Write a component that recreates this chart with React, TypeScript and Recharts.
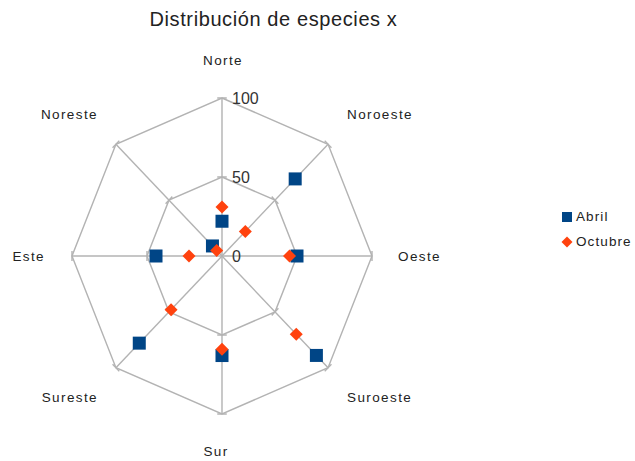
import React from 'react';
import { RadarChart, PolarGrid, PolarAngleAxis, PolarRadiusAxis, Radar } from 'recharts';

const categories = ['Norte', 'Noroeste', 'Oeste', 'Suroeste', 'Sur', 'Sureste', 'Este', 'Noreste'];
const abril = [22, 69, 50, 89, 63, 78, 44, 9];
const octubre = [31, 22, 45, 70, 59, 48, 22, 5];
const radiusTicks = [0, 50, 100];

const data = categories.map((c, i) => ({ name: c, abril: abril[i], octubre: octubre[i] }));

const CX = 222;
const CY = 256;
const R = 158;
const SX = 150 / 158; // horizontal squash of the reference plot area
const BLUE = '#004586';
const ORANGE = '#ff420e';
const GRID = '#b3b3b3';
const FONT = '"Liberation Sans", Arial, sans-serif';

const toSvgX = (pageX: number) => CX + (pageX - CX) / SX;

const AngleTick = (props: any) => {
  const { x, y, payload } = props;
  const dx = x - CX;
  const dy = y - CY;
  const len = Math.sqrt(dx * dx + dy * dy) || 1;
  const ux = dx / len;
  const uy = dy / len;
  let px: number;
  let py: number;
  let anchor: 'start' | 'middle' | 'end' = 'middle';
  if (Math.abs(ux) < 0.3) {
    if (uy < 0) { px = CX + 1; py = CY - 196; } else { px = CX - 6; py = CY + 195; }
  } else if (Math.abs(uy) < 0.3) {
    py = CY;
    if (ux > 0) { px = CX + 176; anchor = 'start'; } else { px = CX - 177; anchor = 'end'; }
  } else {
    py = uy < 0 ? CY - 142 : CY + 141;
    if (ux > 0) { px = CX + 125; anchor = 'start'; } else { px = CX - 124; anchor = 'end'; }
  }
  const marks = [R, R / 2].map((r, k) => {
    const mx = CX + ux * r;
    const my = CY + uy * r;
    const nx = -uy * 5;
    const ny = ux * 5;
    return <line key={k} x1={mx - nx} y1={my - ny} x2={mx + nx} y2={my + ny} stroke={GRID} strokeWidth={1.5} />;
  });
  return (
    <g>
      {marks}
      <g transform={`translate(${toSvgX(px)},${py}) scale(${1 / SX},1)`}>
        <text x={0} y={0} textAnchor={anchor} dominantBaseline="central" fontFamily={FONT} fontSize={13.5} fill="#222" letterSpacing={1.4}>
          {payload.value}
        </text>
      </g>
    </g>
  );
};

const RadiusTick = (props: any) => {
  const { x, y, payload } = props;
  return (
    <g transform={`translate(${x + 10 / SX},${y}) scale(${1 / SX},1)`}>
      <text x={0} y={0} dominantBaseline="central" textAnchor="start" fontFamily={FONT} fontSize={16} fill="#333">
        {payload.value}
      </text>
    </g>
  );
};

const SquareDot = (props: any) => {
  const { cx, cy } = props;
  return <rect x={cx - 6.5 / SX} y={cy - 6.5} width={13 / SX} height={13} fill={BLUE} />;
};

const DiamondDot = (props: any) => {
  const { cx, cy } = props;
  const s = 6.5;
  const sx = s / SX;
  return <polygon points={`${cx},${cy - s} ${cx + sx},${cy} ${cx},${cy + s} ${cx - sx},${cy}`} fill={ORANGE} />;
};

export default function App() {
  return (
    <div style={{ position: 'absolute', left: 0, top: 0, width: 635, height: 461, background: '#fff', fontFamily: FONT }}>
      <div style={{ position: 'absolute', left: 0, width: 547, top: 8, textAlign: 'center', fontSize: 20, color: '#222', letterSpacing: 0.6, whiteSpace: 'nowrap' }}>
        Distribución de especies x
      </div>
      <div style={{ position: 'absolute', left: 0, top: 0, transform: `scaleX(${SX})`, transformOrigin: `${CX}px ${CY}px` }}>
        <RadarChart width={635} height={461} data={data} cx={CX} cy={CY} outerRadius={R} startAngle={90} endAngle={-270}>
          <PolarGrid gridType="polygon" stroke={GRID} strokeWidth={1.5} />
          <PolarAngleAxis dataKey="name" tick={AngleTick} tickLine={false} axisLine={false} />
          <PolarRadiusAxis angle={90} domain={[0, 100]} tickCount={3} ticks={radiusTicks as any} tick={RadiusTick} axisLine={false} tickLine={false} />
          <Radar name="Abril" dataKey="abril" stroke="none" fill="none" dot={SquareDot} isAnimationActive={false} />
          <Radar name="Octubre" dataKey="octubre" stroke="none" fill="none" dot={DiamondDot} isAnimationActive={false} />
        </RadarChart>
      </div>
      <div style={{ position: 'absolute', left: 561, top: 204, fontSize: 13.5, color: '#222', lineHeight: '25px', letterSpacing: 1.1, whiteSpace: 'nowrap' }}>
        <div style={{ display: 'flex', alignItems: 'center' }}>
          <svg width={12} height={12} style={{ marginRight: 3 }}><rect x={1} y={1} width={10} height={10} fill={BLUE} /></svg>
          Abril
        </div>
        <div style={{ display: 'flex', alignItems: 'center' }}>
          <svg width={12} height={12} style={{ marginRight: 3 }}><polygon points="6,0.5 11.5,6 6,11.5 0.5,6" fill={ORANGE} /></svg>
          Octubre
        </div>
      </div>
    </div>
  );
}
